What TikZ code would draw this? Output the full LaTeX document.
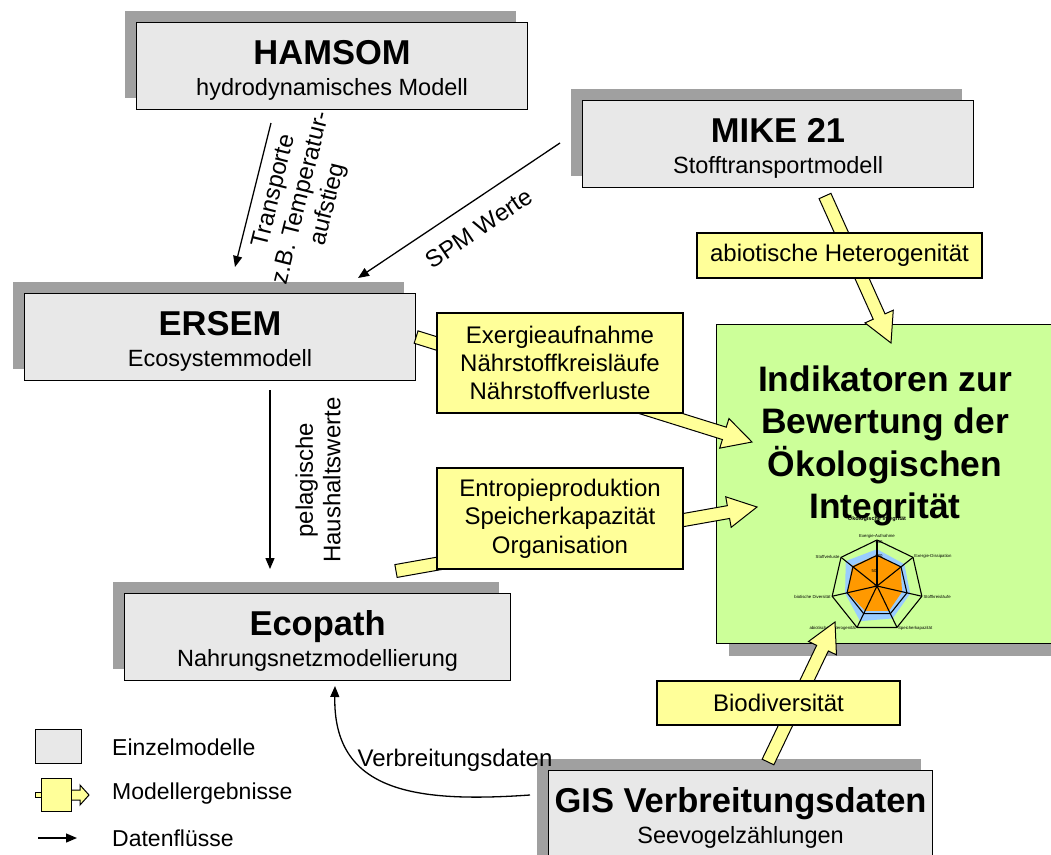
\documentclass[tikz,border=0pt]{standalone}
\usepackage{fontspec}
\setmainfont{Liberation Sans}
\usetikzlibrary{calc,arrows.meta,shadows}
\definecolor{boxgray}{HTML}{E8E8E8}
\definecolor{shadowgray}{HTML}{A0A0A0}
\definecolor{lgreen}{HTML}{CCFF99}
\definecolor{yel}{HTML}{FFFF99}
\definecolor{rorange}{HTML}{FF9900}
\definecolor{rblue}{HTML}{99CCFF}
\newcommand{\blockarrow}[2]{%
  \coordinate (baT) at ($(#2)!29pt!(#1)$);
  \filldraw[yarrow] ($(#1)!6.5pt!90:(#2)$) -- ($(baT)!6.5pt!-90:(#1)$) -- ($(baT)!15.5pt!-90:(#1)$) -- (#2)
     -- ($(baT)!15.5pt!90:(#1)$) -- ($(baT)!6.5pt!90:(#1)$) -- ($(#1)!6.5pt!-90:(#2)$) -- cycle;}
\begin{document}
\begin{tikzpicture}[x=1pt,y=-1pt,
  modelbox/.style={draw=black, line width=1.1pt, fill=boxgray, minimum width=391pt, minimum height=87pt,
    inner sep=0pt, anchor=north west, drop shadow={shadow xshift=-12pt, shadow yshift=12pt, fill=shadowgray, opacity=1}},
  titletext/.style={font=\fontsize{34.5}{40}\selectfont\bfseries, anchor=base, inner sep=0pt},
  subtext/.style={font=\fontsize{23.5}{28}\selectfont, anchor=base, inner sep=0pt},
  ylabel/.style={draw=black, line width=1.1pt, fill=yel, inner sep=0pt, align=center, font=\fontsize{24}{28.3}\selectfont},
  yarrow/.style={draw=black, line width=1pt, fill=yel, line join=miter},
  dataflow/.style={line width=1.3pt, -{Triangle[length=11pt,width=9pt]}},
  flowlabel/.style={font=\fontsize{24}{27.6}\selectfont, align=center, inner sep=0pt},
  radar/.style={draw=black, line width=1.1pt, line join=miter},
  tinytext/.style={font=\fontsize{4.3}{5}\selectfont, inner sep=0.5pt},
  legendtext/.style={font=\fontsize{23}{27}\selectfont, anchor=west, inner sep=0pt}]
\useasboundingbox (0,0) rectangle (1051,854);
\clip (0,0) rectangle (1051,854);
\fill[white] (0,0) rectangle (1051,854);

% model boxes
\node[modelbox] (ham) at (136,22) {};
\node[titletext] (hamt) at ($(ham.north)+(0,42)$) {HAMSOM};
\node[subtext] (hams) at ($(ham.north)+(0,73)$) {hydrodynamisches Modell};

\node[modelbox] (mike) at (582,100) {};
\node[titletext] (miket) at ($(mike.north)+(0,42)$) {MIKE 21};
\node[subtext] (mikes) at ($(mike.north)+(0,73)$) {Stofftransportmodell};

\node[modelbox] (ers) at (24,293) {};
\node[titletext] (erst) at ($(ers.north)+(0,42)$) {ERSEM};
\node[subtext] (erss) at ($(ers.north)+(0,73)$) {Ecosystemmodell};

\node[modelbox, minimum width=386pt] (eco) at (124,593) {};
\node[titletext] (ecot) at ($(eco.north)+(0,42)$) {Ecopath};
\node[subtext] (ecos) at ($(eco.north)+(0,73)$) {Nahrungsnetzmodellierung};

\node[modelbox, minimum width=384pt, minimum height=110pt] (gis) at (548,770) {};
\node[titletext] (gist) at ($(gis.north)+(0,42)$) {GIS Verbreitungsdaten};
\node[subtext] (giss) at ($(gis.north)+(0,73)$) {Seevogelzählungen};

% indicator box
\node[draw=black, line width=1.1pt, fill=lgreen, minimum width=360pt, minimum height=319pt, inner sep=0pt,
  anchor=north west, drop shadow={shadow xshift=12pt, shadow yshift=-12pt, fill=shadowgray, opacity=1}] (ind) at (716,324) {};

% radar chart
\coordinate (rc) at (877,586);
\fill[rblue] ($(rc)+(90:36.8pt)$) \foreach \a/\r in {38.57/35,-12.86/34,-64.29/36,-115.71/39,-167.14/32.7,141.43/40}{ -- ($(rc)+(\a:\r pt)$)} -- cycle;
\fill[rorange] ($(rc)+(90:31pt)$) \foreach \a/\r in {38.57/30,-12.86/25.7,-64.29/27.6,-115.71/27.6,-167.14/30,141.43/32}{ -- ($(rc)+(\a:\r pt)$)} -- cycle;
\draw[radar] ($(rc)+(90:46pt)$) \foreach \a in {38.57,-12.86,-64.29,-115.71,-167.14,141.43}{ -- ($(rc)+(\a:46pt)$)} -- cycle;
\draw[radar] ($(rc)+(90:30.7pt)$) \foreach \a in {38.57,-12.86,-64.29,-115.71,-167.14,141.43}{ -- ($(rc)+(\a:30.7pt)$)} -- cycle;
\foreach \a in {90,38.57,-12.86,-64.29,-115.71,-167.14,141.43}{\draw[radar] (rc) -- ($(rc)+(\a:46pt)$);}
\node[tinytext, anchor=south] (rl1) at ($(rc)+(90:47pt)$) {Exergie-Aufnahme};
\node[tinytext, anchor=west] (rl2) at ($(rc)+(38.57:47pt)$) {Exergie-Dissipation};
\node[tinytext, anchor=west] (rl3) at ($(rc)+(-12.86:47pt)$) {Stoffkreisläufe};
\node[tinytext, anchor=west] (rl4) at ($(rc)+(-64.29:47pt)$) {Speicherkapazität};
\node[tinytext, anchor=east] (rl5) at ($(rc)+(-115.71:47pt)$) {abiotische Heterogenität};
\node[tinytext, anchor=east] (rl6) at ($(rc)+(-167.14:47pt)$) {biotische Diversität};
\node[tinytext, anchor=east] (rl7) at ($(rc)+(141.43:47pt)$) {Stoffverluste};
\node[tinytext] (rs1) at (879,542) {150};
\node[tinytext] (rs2) at (879,556) {100};
\node[tinytext] (rs3) at (874,571) {50};
\node[tinytext] (rs4) at (875,586) {0};
\node[font=\fontsize{5.5}{6}\selectfont\bfseries, inner sep=0pt] (rtitle) at (877,519) {Ökologische Integrität};

\node[font=\fontsize{35.4}{42.5}\selectfont\bfseries, align=center, inner sep=0pt] (indt) at (885,446)
  {Indikatoren zur\\Bewertung der\\Ökologischen\\Integrität};

% block arrows (model results)
\coordinate (exA) at (ers.east);
\coordinate (exB) at (752,442);
\coordinate (enA) at (396,571);
\coordinate (enB) at (757,507);
\coordinate (abA) at (825,196);
\coordinate (abB) at (891,343);
\coordinate (bdA) at (768,762);
\coordinate (bdB) at (835,622);
\blockarrow{exA}{exB}
\blockarrow{enA}{enB}
\blockarrow{abA}{abB}
\blockarrow{bdA}{bdB}

\node[ylabel, minimum width=246pt, minimum height=100pt] (exl) at (560,363) {Exergieaufnahme\\Nährstoffkreisläufe\\Nährstoffverluste};
\node[ylabel, minimum width=246pt, minimum height=101pt] (enl) at (560,518.5) {Entropieproduktion\\Speicherkapazität\\Organisation};
\node[ylabel, minimum width=285pt, minimum height=45pt] (abl) at (839.5,255.5) {abiotische Heterogenität};
\node[ylabel, minimum width=243pt, minimum height=44pt] (bdl) at (778.5,703) {Biodiversität};

% data flows
\coordinate (f1a) at (271,123);
\coordinate (f1b) at (235,267);
\draw[dataflow] (f1a) -- (f1b);
\node[flowlabel, rotate=76] (f1l) at (302,198) {Transporte\\z.B. Temperatur-\\aufstieg};

\coordinate (f2a) at (560,143);
\coordinate (f2b) at (358,278);
\draw[dataflow] (f2a) -- (f2b);
\node[flowlabel, rotate=34] (f2l) at (479,228) {SPM Werte};

\coordinate (f3a) at (270,390);
\coordinate (f3b) at (270,569);
\draw[dataflow] (f3a) -- (f3b);
\node[flowlabel, rotate=90] (f3l) at (318,480) {pelagische\\Haushaltswerte};

\coordinate (f4a) at (530,795);
\coordinate (f4b) at (335,686);
\draw[dataflow] (f4a) .. controls (415,803) and (333,792) .. (f4b);
\node[flowlabel] (f4l) at (455,760) {Verbreitungsdaten};

% legend
\node[draw=black, line width=1pt, fill=boxgray, minimum width=46pt, minimum height=34pt, inner sep=0pt] (lg1) at (58,746) {};
\filldraw[yarrow] (35,792) rectangle (41,797);
\filldraw[yarrow] (71,790) -- (80,790) -- (80,785) -- (89,795) -- (80,805) -- (80,800) -- (71,800) -- cycle;
\node[draw=black, line width=1pt, fill=yel, minimum width=30pt, minimum height=33pt, inner sep=0pt] (lg2) at (56,794.5) {};
\coordinate (lg3a) at (38,838);
\coordinate (lg3b) at (77,838);
\draw[dataflow] (lg3a) -- (lg3b);
\node[legendtext] (lt1) at (112,747) {Einzelmodelle};
\node[legendtext] (lt2) at (112,794) {Modellergebnisse};
\node[legendtext] (lt3) at (112,838) {Datenflüsse};
\end{tikzpicture}
\end{document}
